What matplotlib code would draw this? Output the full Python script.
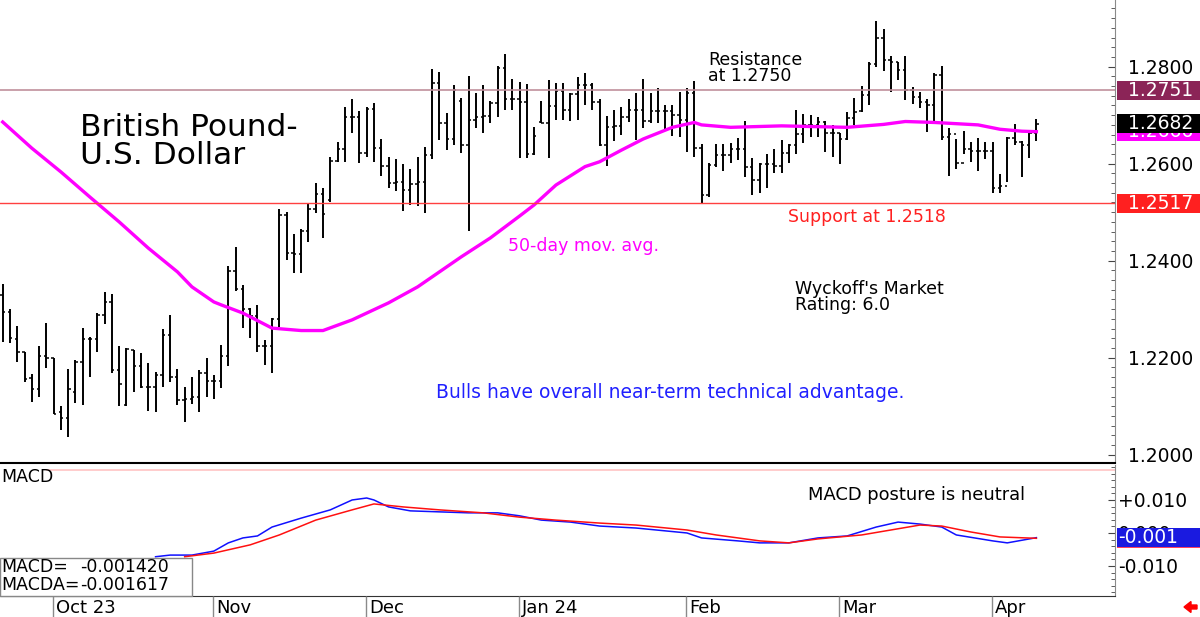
import matplotlib
matplotlib.use("Agg")
import matplotlib.pyplot as plt
import numpy as np
from matplotlib.patches import Rectangle, FancyArrow
from matplotlib.transforms import blended_transform_factory as blend
from matplotlib.ticker import FixedLocator, MultipleLocator

# daily OHLC bars, GBP/USD (index 0 = late Sept 2023 ... last = Apr 9 2024)
opens = [1.2330, 1.2295, 1.2239, 1.2212, 1.2158, 1.2135, 1.2204, 1.2199, 1.2089, 1.2076,
         1.2130, 1.2192, 1.2239, 1.2239, 1.2288, 1.2314, 1.2175, 1.2102, 1.2216, 1.2183,
         1.2140, 1.2140, 1.2164, 1.2247, 1.2160, 1.2113, 1.2114, 1.2120, 1.2169, 1.2152,
         1.2152, 1.2204, 1.2379, 1.2341, 1.2300, 1.2286, 1.2225, 1.2225, 1.2279, 1.2494,
         1.2416, 1.2414, 1.2462, 1.2506, 1.2538, 1.2525, 1.2606, 1.2630, 1.2696, 1.2696,
         1.2623, 1.2712, 1.2632, 1.2595, 1.2561, 1.2562, 1.2546, 1.2558, 1.2563, 1.2618,
         1.2767, 1.2683, 1.2650, 1.2730, 1.2639, 1.2690, 1.2697, 1.2698, 1.2726, 1.2797,
         1.2733, 1.2733, 1.2728, 1.2620, 1.2686, 1.2683, 1.2719, 1.2750, 1.2711, 1.2743,
         1.2762, 1.2762, 1.2728, 1.2639, 1.2676, 1.2678, 1.2697, 1.2711, 1.2711, 1.2689,
         1.2709, 1.2709, 1.2709, 1.2700, 1.2690, 1.2745, 1.2632, 1.2535, 1.2597, 1.2618,
         1.2618, 1.2630, 1.2630, 1.2593, 1.2566, 1.2600, 1.2600, 1.2595, 1.2623, 1.2639,
         1.2661, 1.2680, 1.2680, 1.2685, 1.2663, 1.2663, 1.2650, 1.2694, 1.2708, 1.2742,
         1.2805, 1.2860, 1.2814, 1.2810, 1.2793, 1.2752, 1.2738, 1.2727, 1.2721, 1.2783,
         1.2656, 1.2661, 1.2601, 1.2630, 1.2626, 1.2626, 1.2626, 1.2549, 1.2553, 1.2652,
         1.2644, 1.2639, 1.2663]
highs = [1.2352, 1.2300, 1.2265, 1.2212, 1.2166, 1.2224, 1.2271, 1.2199, 1.2100, 1.2176,
         1.2195, 1.2261, 1.2243, 1.2292, 1.2336, 1.2331, 1.2224, 1.2219, 1.2216, 1.2210,
         1.2190, 1.2170, 1.2259, 1.2289, 1.2176, 1.2139, 1.2161, 1.2175, 1.2199, 1.2164,
         1.2226, 1.2389, 1.2429, 1.2350, 1.2303, 1.2309, 1.2237, 1.2281, 1.2506, 1.2501,
         1.2455, 1.2465, 1.2516, 1.2560, 1.2549, 1.2614, 1.2645, 1.2716, 1.2733, 1.2709,
         1.2716, 1.2725, 1.2651, 1.2614, 1.2609, 1.2599, 1.2589, 1.2614, 1.2635, 1.2795,
         1.2790, 1.2705, 1.2762, 1.2735, 1.2781, 1.2746, 1.2762, 1.2729, 1.2801, 1.2826,
         1.2774, 1.2769, 1.2764, 1.2676, 1.2730, 1.2773, 1.2767, 1.2766, 1.2746, 1.2779,
         1.2786, 1.2767, 1.2733, 1.2698, 1.2711, 1.2716, 1.2733, 1.2746, 1.2774, 1.2746,
         1.2757, 1.2721, 1.2721, 1.2748, 1.2757, 1.2771, 1.2641, 1.2602, 1.2641, 1.2641,
         1.2642, 1.2654, 1.2687, 1.2611, 1.2601, 1.2621, 1.2630, 1.2649, 1.2641, 1.2711,
         1.2702, 1.2700, 1.2696, 1.2689, 1.2680, 1.2664, 1.2707, 1.2735, 1.2761, 1.2810,
         1.2894, 1.2878, 1.2823, 1.2810, 1.2823, 1.2759, 1.2747, 1.2733, 1.2786, 1.2802,
         1.2674, 1.2651, 1.2667, 1.2644, 1.2654, 1.2645, 1.2644, 1.2578, 1.2656, 1.2681,
         1.2647, 1.2666, 1.2692]
lows = [1.2233, 1.2230, 1.2192, 1.2150, 1.2109, 1.2120, 1.2179, 1.2084, 1.2051, 1.2036,
        1.2106, 1.2102, 1.2161, 1.2211, 1.2269, 1.2169, 1.2100, 1.2100, 1.2130, 1.2137,
        1.2090, 1.2089, 1.2140, 1.2150, 1.2102, 1.2067, 1.2104, 1.2089, 1.2118, 1.2114,
        1.2137, 1.2183, 1.2338, 1.2261, 1.2240, 1.2211, 1.2185, 1.2169, 1.2264, 1.2401,
        1.2375, 1.2374, 1.2439, 1.2498, 1.2446, 1.2522, 1.2604, 1.2604, 1.2664, 1.2601,
        1.2614, 1.2604, 1.2575, 1.2549, 1.2544, 1.2503, 1.2515, 1.2513, 1.2499, 1.2609,
        1.2649, 1.2628, 1.2639, 1.2623, 1.2461, 1.2673, 1.2663, 1.2683, 1.2697, 1.2711,
        1.2711, 1.2611, 1.2611, 1.2618, 1.2683, 1.2611, 1.2690, 1.2690, 1.2687, 1.2690,
        1.2721, 1.2711, 1.2636, 1.2595, 1.2647, 1.2659, 1.2685, 1.2649, 1.2673, 1.2683,
        1.2683, 1.2671, 1.2657, 1.2656, 1.2625, 1.2613, 1.2517, 1.2532, 1.2594, 1.2584,
        1.2602, 1.2608, 1.2572, 1.2536, 1.2540, 1.2549, 1.2580, 1.2580, 1.2602, 1.2621,
        1.2642, 1.2656, 1.2656, 1.2625, 1.2613, 1.2599, 1.2649, 1.2680, 1.2707, 1.2722,
        1.2800, 1.2791, 1.2747, 1.2773, 1.2731, 1.2724, 1.2715, 1.2666, 1.2683, 1.2649,
        1.2575, 1.2590, 1.2621, 1.2604, 1.2585, 1.2610, 1.2539, 1.2539, 1.2562, 1.2639,
        1.2573, 1.2611, 1.2647]
closes = [1.2295, 1.2240, 1.2212, 1.2157, 1.2135, 1.2204, 1.2199, 1.2084, 1.2076, 1.2135,
          1.2192, 1.2239, 1.2239, 1.2288, 1.2314, 1.2175, 1.2145, 1.2217, 1.2183, 1.2140,
          1.2140, 1.2164, 1.2247, 1.2160, 1.2113, 1.2114, 1.2120, 1.2169, 1.2152, 1.2152,
          1.2204, 1.2379, 1.2341, 1.2300, 1.2286, 1.2225, 1.2225, 1.2279, 1.2494, 1.2416,
          1.2414, 1.2462, 1.2506, 1.2538, 1.2496, 1.2606, 1.2630, 1.2696, 1.2696, 1.2623,
          1.2712, 1.2632, 1.2595, 1.2561, 1.2562, 1.2546, 1.2558, 1.2563, 1.2618, 1.2767,
          1.2683, 1.2650, 1.2752, 1.2639, 1.2690, 1.2697, 1.2698, 1.2726, 1.2797, 1.2733,
          1.2733, 1.2728, 1.2620, 1.2657, 1.2683, 1.2719, 1.2750, 1.2711, 1.2743, 1.2762,
          1.2762, 1.2728, 1.2639, 1.2676, 1.2678, 1.2697, 1.2711, 1.2711, 1.2689, 1.2709,
          1.2709, 1.2709, 1.2700, 1.2690, 1.2745, 1.2632, 1.2535, 1.2597, 1.2618, 1.2618,
          1.2630, 1.2630, 1.2593, 1.2566, 1.2600, 1.2600, 1.2595, 1.2623, 1.2639, 1.2661,
          1.2680, 1.2680, 1.2685, 1.2663, 1.2663, 1.2650, 1.2694, 1.2706, 1.2742, 1.2805,
          1.2860, 1.2814, 1.2810, 1.2793, 1.2752, 1.2738, 1.2727, 1.2721, 1.2783, 1.2656,
          1.2661, 1.2601, 1.2630, 1.2626, 1.2626, 1.2626, 1.2549, 1.2553, 1.2652, 1.2644,
          1.2639, 1.2663, 1.2682]

# 50-day moving average, read at a few bars
ma_idx = [0, 4, 8, 12, 16, 20, 24, 26, 29, 30, 33, 37, 41, 44, 48, 53, 57, 60, 63, 67, 71,
          73, 76, 80, 82, 85, 88, 92, 95, 96, 100, 107, 116, 121, 124, 128, 134, 137, 140, 142]
ma_vals = [1.2686, 1.2632, 1.2583, 1.2531, 1.2480, 1.2426, 1.2377, 1.2346, 1.2315, 1.2309,
           1.2292, 1.2261, 1.2256, 1.2256, 1.2278, 1.2313, 1.2346, 1.2377, 1.2408, 1.2447,
           1.2492, 1.2515, 1.2556, 1.2594, 1.2604, 1.2628, 1.2651, 1.2675, 1.2685, 1.2680,
           1.2675, 1.2678, 1.2675, 1.2681, 1.2687, 1.2685, 1.2680, 1.2671, 1.2667, 1.2666]

# MACD and its signal line (MACDA)
macd_idx = [21, 23, 26, 29, 31, 33, 35, 37, 41, 45, 48, 50, 51, 53, 56, 60, 64, 68, 71, 74,
            78, 82, 87, 94, 96, 101, 104, 108, 112, 116, 120, 123, 126, 129, 131, 136, 138, 142]
macd_vals = [-0.0072, -0.0067, -0.0067, -0.0055, -0.0030, -0.0015, -0.0009, 0.0018, 0.0045, 0.0070,
             0.0100, 0.0106, 0.0100, 0.0079, 0.0067, 0.0064, 0.0061, 0.0061, 0.0052, 0.0039,
             0.0033, 0.0021, 0.0015, 0.0000, -0.0015, -0.0024, -0.0030, -0.0030, -0.0015, -0.0009,
             0.0018, 0.0033, 0.0027, 0.0018, -0.0006, -0.0024, -0.0030, -0.00142]
sig_idx = [25, 29, 34, 38, 43, 48, 51, 55, 60, 66, 71, 76, 82, 87, 94, 98, 104, 108, 112,
           118, 122, 126, 129, 133, 137, 142]
sig_vals = [-0.0072, -0.0061, -0.0036, -0.0006, 0.0039, 0.0070, 0.0088, 0.0079, 0.0070, 0.0061,
            0.0048, 0.0039, 0.0030, 0.0024, 0.0009, -0.0006, -0.0024, -0.0030, -0.0018,
            -0.0006, 0.0009, 0.0024, 0.0021, 0.0003, -0.0012, -0.001617]

resistance = 1.2751
support = 1.2518
last_close = 1.2682
last_ma = 1.2666
macd_last = -0.001420
macda_last = -0.001617

month_pos = [7, 29, 50, 71, 94, 115, 136]
month_labels = ["Oct 23", "Nov", "Dec", "Jan 24", "Feb", "Mar", "Apr"]

W, H = 1200, 617
fig = plt.figure(figsize=(12, 6.17), dpi=100)
ax = fig.add_axes([0, 1 - 463 / H, 1115 / W, 463 / H])
mx = fig.add_axes([0, 1 - 596 / H, 1115 / W, (596 - 465) / H])
dx = fig.add_axes([0, 0, 1115 / W, 21 / H])
xlim = (-0.37, 152.8)
FS = 12.5

# price bars
idx = np.arange(len(closes))
ax.vlines(idx, lows, highs, color="black", lw=1.4)
ax.hlines(opens, idx - 0.33, idx, color="black", lw=1.1)
ax.hlines(closes, idx, idx + 0.33, color="black", lw=1.1)
ax.plot(ma_idx, ma_vals, color="#ff00ff", lw=2.4)
ax.axhline(resistance, color="#c0909c", lw=1.2)
ax.axhline(support, color="#ff4040", lw=1.0)
ax.set_xlim(xlim)
ax.set_ylim(1.19829, 1.29375)
ax.set_xticks([])
for s in ["left", "top"]:
    ax.spines[s].set_visible(False)
ax.spines["right"].set_color("#8a8a8a")
ax.spines["bottom"].set_color("black")
ax.spines["bottom"].set_linewidth(1.5)
ax.yaxis.tick_right()
ax.yaxis.set_major_locator(FixedLocator([1.20, 1.22, 1.24, 1.26, 1.28]))
ax.yaxis.set_minor_locator(MultipleLocator(0.002))
ax.yaxis.set_major_formatter(plt.FormatStrFormatter("%.4f"))
ax.tick_params(axis="y", which="major", direction="in", length=5, color="#444444",
               labelsize=13.5, pad=9)
ax.tick_params(axis="y", which="minor", direction="in", length=3, color="#444444")

# MACD panel
mx.plot(macd_idx, macd_vals, color="#1010ff", lw=1.1)
mx.plot(sig_idx, sig_vals, color="#ff1010", lw=1.1)
mx.axhline(0.0191, xmin=47 / 1115, color="#ffc4c4", lw=1.2)
mx.set_xlim(xlim)
mx.set_ylim(-0.0191, 0.0206)
mx.set_xticks([])
for s in ["left", "top"]:
    mx.spines[s].set_visible(False)
mx.spines["right"].set_color("#8a8a8a")
mx.spines["bottom"].set_color("#333333")
mx.yaxis.tick_right()
mx.yaxis.set_major_locator(FixedLocator([0.01, 0.0, -0.01]))
mx.yaxis.set_minor_locator(MultipleLocator(0.002))
mx.set_yticklabels(["+0.010", "0.000", "-0.010"])
mx.tick_params(axis="y", which="major", direction="in", length=5, color="#444444",
               labelsize=13.5, pad=2)
mx.tick_params(axis="y", which="minor", direction="in", length=3, color="#444444")

# date strip
dx.set_xlim(xlim)
dx.set_ylim(0, 1)
dx.axis("off")
dx.vlines([p - 0.1 for p in month_pos], 0, 1, color="#8a8a8a", lw=1)
for p, lab in zip(month_pos, month_labels):
    dx.text(p + 0.3, 0.45, lab, fontsize=13, va="center", ha="left")


def ftxt(x, y, s, **kw):
    fig.text(x / W, 1 - y / H, s, va="center", ha="left", **kw)


def vbox(axis, y, text, fc, hd, z, xt=1128):
    tr = blend(fig.transFigure, axis.transData)
    axis.add_patch(Rectangle((1117 / W, y - hd / 2), 83 / W, hd, transform=tr, fc=fc,
                             ec="none", clip_on=False, zorder=z))
    axis.text(xt / W, y, text, transform=tr, color="white", fontsize=13.5, va="center",
              ha="left", clip_on=False, zorder=z + 0.5)


vbox(ax, resistance, "1.2751", "#8b2457", 19 / 4850, 5)
vbox(ax, last_ma, "1.2666", "#ff00ff", 19 / 4850, 5)
vbox(ax, last_close, "1.2682", "#000000", 19 / 4850, 7)
vbox(ax, support - 0.0001, "1.2517", "#ff2020", 19 / 4850, 5)
vbox(mx, macda_last, "", "#ff4060", 19 / 3300, 5)
vbox(mx, macd_last, "-0.001", "#1a1ae0", 19 / 3300, 7, xt=1118)

# annotations
ftxt(80, 128, "British Pound-", fontsize=22.5)
ftxt(80, 155, "U.S. Dollar", fontsize=22.5)
ftxt(708, 60, "Resistance", fontsize=FS)
ftxt(708, 76, "at 1.2750", fontsize=FS)
ftxt(788, 217, "Support at 1.2518", fontsize=FS, color="#ff2020")
ftxt(508, 246, "50-day mov. avg.", fontsize=FS, color="#ff00ff")
ftxt(795, 289, "Wyckoff's Market", fontsize=FS)
ftxt(795, 305, "Rating: 6.0", fontsize=FS)
ftxt(436, 393, "Bulls have overall near-term technical advantage.", fontsize=13.5,
     color="#2020ff")
ftxt(808, 495, "MACD posture is neutral", fontsize=12.9)
ftxt(1, 477, "MACD", fontsize=FS)

# MACD value box bottom-left
fig.add_artist(Rectangle((0, 1 - 596 / H), 192 / W, (596 - 558) / H, transform=fig.transFigure,
                         fc="white", ec="#888888", lw=1, zorder=3))
fig.text(1 / W, 1 - 567 / H, "MACD=", fontsize=FS, va="center", zorder=4)
fig.text(80 / W, 1 - 567 / H, "-0.001420", fontsize=FS, va="center", zorder=4)
fig.text(1 / W, 1 - 585 / H, "MACDA=", fontsize=FS, va="center", zorder=4)
fig.text(80 / W, 1 - 585 / H, "-0.001617", fontsize=FS, va="center", zorder=4)

fig.add_artist(FancyArrow(1197 / W, 1 - 607 / H, -13 / W, 0, width=4 / H, head_width=11 / H,
                          head_length=7 / W, length_includes_head=True, color="#ff0000",
                          transform=fig.transFigure))

fig.savefig("out.png", dpi=100)
